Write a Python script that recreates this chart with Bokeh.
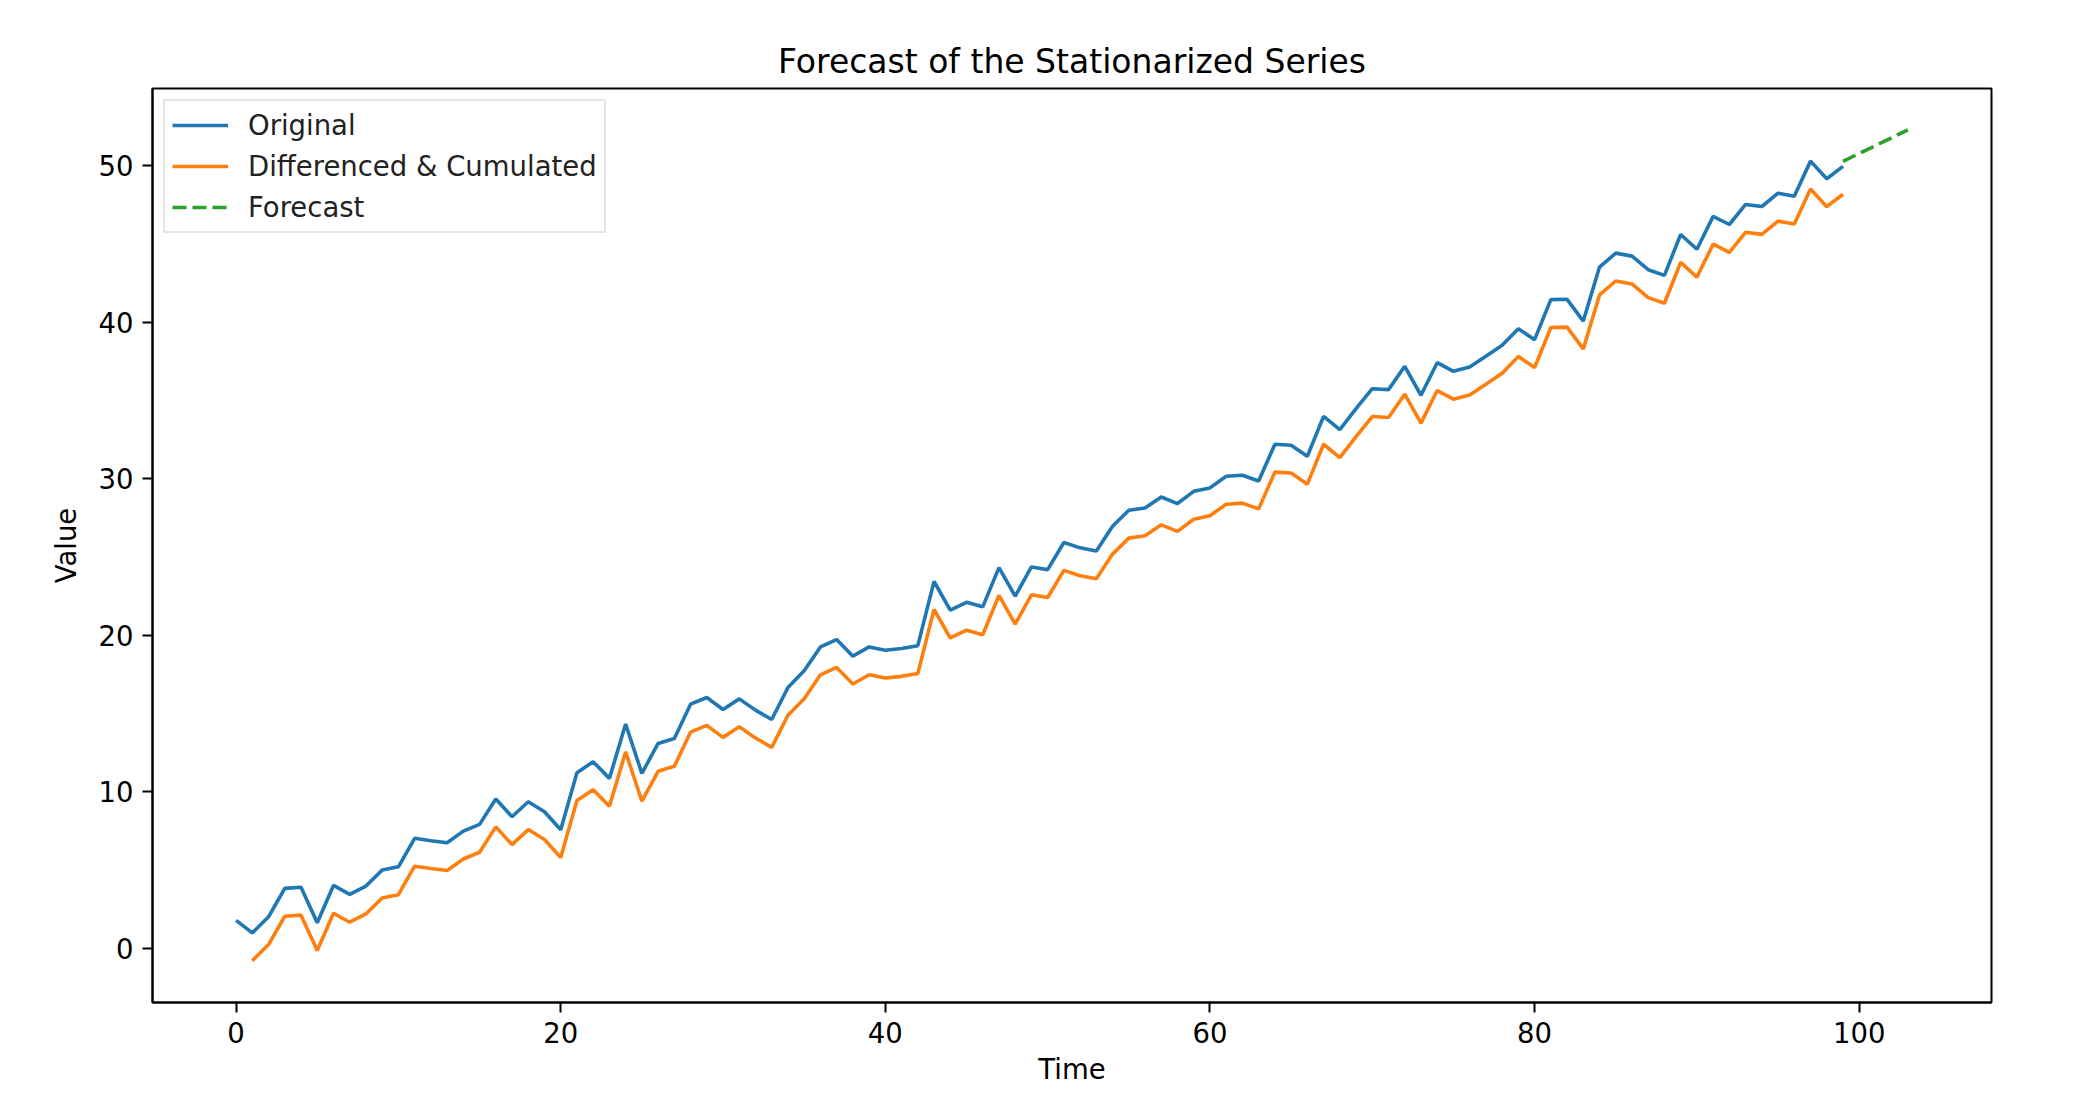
from bokeh.plotting import figure
from bokeh.models import Range1d, FixedTicker, Legend, LegendItem
from bokeh.embed import file_html
from bokeh.resources import INLINE

# ---- data ----
time_orig = list(range(0, 100))
original = [
    1.80, 1.00, 2.03, 3.84, 3.91, 1.65, 4.03, 3.46, 3.99, 5.01,
    5.22, 7.04, 6.89, 6.76, 7.50, 7.93, 9.55, 8.42, 9.38, 8.74,
    7.59, 11.23, 11.93, 10.87, 14.34, 11.19, 13.10, 13.42, 15.61, 16.04,
    15.27, 15.95, 15.23, 14.63, 16.68, 17.74, 19.27, 19.74, 18.68, 19.27,
    19.06, 19.17, 19.35, 23.45, 21.62, 22.12, 21.83, 24.34, 22.51, 24.38,
    24.21, 25.94, 25.60, 25.40, 26.98, 28.00, 28.15, 28.85, 28.43, 29.21,
    29.43, 30.17, 30.24, 29.87, 32.22, 32.16, 31.45, 34.00, 33.15, 34.49,
    35.77, 35.71, 37.20, 35.35, 37.43, 36.88, 37.15, 37.84, 38.54, 39.60,
    38.90, 41.46, 41.48, 40.09, 43.54, 44.43, 44.24, 43.37, 43.01, 45.62,
    44.68, 46.78, 46.26, 47.54, 47.41, 48.26, 48.07, 50.31, 49.18, 49.97,
]

time_diff = list(range(1, 100))
diff_cum = [
    -0.78, 0.25, 2.06, 2.13, -0.13, 2.25, 1.68, 2.21, 3.23,
    3.44, 5.26, 5.11, 4.98, 5.72, 6.15, 7.77, 6.64, 7.60, 6.96,
    5.81, 9.45, 10.15, 9.09, 12.56, 9.41, 11.32, 11.64, 13.83, 14.26,
    13.49, 14.17, 13.45, 12.85, 14.90, 15.96, 17.49, 17.96, 16.90, 17.49,
    17.28, 17.39, 17.57, 21.67, 19.84, 20.34, 20.05, 22.56, 20.73, 22.60,
    22.43, 24.16, 23.82, 23.62, 25.20, 26.22, 26.37, 27.07, 26.65, 27.43,
    27.65, 28.39, 28.46, 28.09, 30.44, 30.38, 29.67, 32.22, 31.37, 32.71,
    33.99, 33.93, 35.42, 33.57, 35.65, 35.10, 35.37, 36.06, 36.76, 37.82,
    37.12, 39.68, 39.70, 38.31, 41.76, 42.65, 42.46, 41.59, 41.23, 43.84,
    42.90, 45.00, 44.48, 45.76, 45.63, 46.48, 46.29, 48.53, 47.40, 48.19,
]

time_fc = [99, 100, 101, 102, 103]
forecast = [50.29, 50.80, 51.30, 51.80, 52.31]

x_ticks = [0, 20, 40, 60, 80, 100]
y_ticks = [0, 10, 20, 30, 40, 50]

FONT = "DejaVu Sans"

p = figure(
    frame_width=1839, frame_height=914,
    output_backend="svg", toolbar_location=None,
    x_range=Range1d(-5.15, 108.15), y_range=Range1d(-3.45, 54.95),
    min_border_left=152, min_border_right=68,
    min_border_top=88, min_border_bottom=60,
    title="Forecast of the Stationarized Series",
)

p.title.align = "center"
p.title.text_font = FONT
p.title.text_font_size = "33px"
p.title.text_font_style = "normal"
p.title.text_color = "black"
p.title.standoff = 15

p.background_fill_color = "white"
p.border_fill_color = "white"
p.outline_line_color = "black"
p.outline_line_width = 2
p.xgrid.visible = False
p.ygrid.visible = False

for ax, ticks in ((p.xaxis[0], x_ticks), (p.yaxis[0], y_ticks)):
    ax.ticker = FixedTicker(ticks=ticks)
    ax.minor_tick_line_color = None
    ax.major_tick_in = 0
    ax.major_tick_out = 10
    ax.major_tick_line_width = 2
    ax.axis_line_width = 2
    ax.major_label_text_font = FONT
    ax.major_label_text_font_size = "27.5px"
    ax.major_label_text_color = "black"
    ax.major_label_standoff = 9
    ax.axis_label_text_font = FONT
    ax.axis_label_text_font_size = "27.5px"
    ax.axis_label_text_font_style = "normal"
    ax.axis_label_text_color = "black"

p.xaxis.axis_label = "Time"
p.yaxis.axis_label = "Value"
p.xaxis.axis_label_standoff = 7
p.yaxis.axis_label_standoff = 14

r1 = p.line(time_orig, original, line_color="#1f77b4", line_width=3.6)
r2 = p.line(time_diff, diff_cum, line_color="#ff7f0e", line_width=3.6)
r3 = p.line(time_fc, forecast, line_color="#2ca02c", line_width=3.6,
            line_dash="14 6")

legend = Legend(
    items=[
        LegendItem(label="Original", renderers=[r1]),
        LegendItem(label="Differenced & Cumulated", renderers=[r2]),
        LegendItem(label="Forecast", renderers=[r3]),
    ],
    location="top_left",
    margin=11,
    padding=7,
    spacing=7,
    glyph_width=56,
    glyph_height=20,
    label_height=34,
    label_standoff=20,
    label_text_font=FONT,
    label_text_font_size="27.5px",
    label_text_color="#222222",
    border_line_color="#cccccc",
    border_line_width=2,
    background_fill_color="white",
    background_fill_alpha=0.8,
)
p.add_layout(legend)

open("out.html", "w").write(file_html(p, INLINE))
